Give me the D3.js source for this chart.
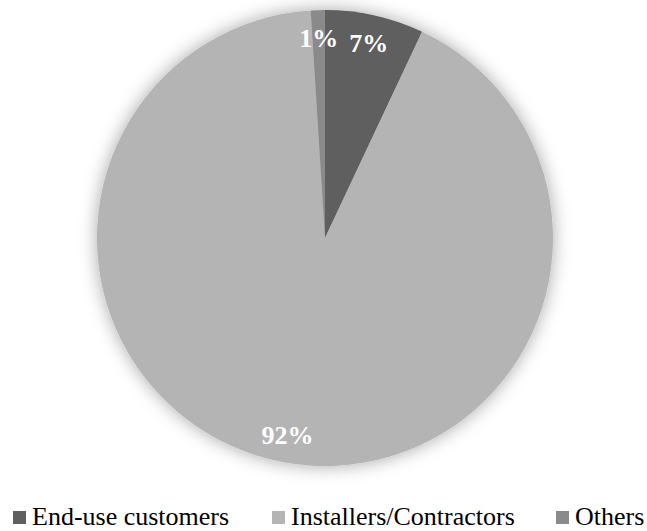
<!DOCTYPE html>
<html>
<head>
<meta charset="utf-8">
<script src="https://cdn.jsdelivr.net/npm/d3@7"></script>
<style>
  html, body { margin: 0; padding: 0; background: #fff; }
  svg { display: block; }
</style>
</head>
<body>
<svg id="chart" width="647" height="531"></svg>
<script>
// Share of sales by customer type
const categories = ["End-use customers", "Installers/Contractors", "Others"];
const shares = [7, 92, 1];
const sliceColors = ["#5f5f5f", "#b4b4b4", "#8a8a8a"];

const width = 647, height = 531;
const cx = 325, cy = 238, radius = 228;
const serif = '"Liberation Serif", "Times New Roman", Times, serif';

const svg = d3.select("#chart");

const defs = svg.append("defs");
const glow = defs.append("filter").attr("id", "glow")
  .attr("x", "-20%").attr("y", "-20%").attr("width", "140%").attr("height", "140%");
glow.append("feDropShadow")
  .attr("dx", 0).attr("dy", 0)
  .attr("stdDeviation", 9)
  .attr("flood-color", "#000").attr("flood-opacity", 0.35);

const data = categories.map((c, i) => ({ name: c, value: shares[i], color: sliceColors[i] }));

const pie = d3.pie().value(d => d.value).sort(null);
const arc = d3.arc().innerRadius(0).outerRadius(radius);
const labelArc = d3.arc().innerRadius(200).outerRadius(200);

const g = svg.append("g").attr("transform", `translate(${cx},${cy})`);
const arcs = pie(data);

g.append("g").attr("filter", "url(#glow)")
  .selectAll("path").data(arcs).join("path")
  .attr("d", arc)
  .attr("fill", d => d.data.color);

g.selectAll("text.lbl").data(arcs).join("text")
  .attr("class", "lbl")
  .attr("x", d => labelArc.centroid(d)[0])
  .attr("y", d => labelArc.centroid(d)[1])
  .attr("dy", "0.35em")
  .attr("text-anchor", "middle")
  .style("font-family", serif)
  .style("font-weight", "bold")
  .style("font-size", "26px")
  .attr("fill", "#fff")
  .text(d => d.data.value + "%");

// legend
const legendX = [13, 272, 556];
const legend = svg.append("g").attr("transform", "translate(0,525)");
const items = legend.selectAll("g").data(data).join("g")
  .attr("transform", (d, i) => `translate(${legendX[i]},0)`);
items.append("rect")
  .attr("x", 0).attr("y", -14).attr("width", 13).attr("height", 13)
  .attr("fill", d => d.color);
items.append("text")
  .attr("x", 19).attr("y", 0)
  .style("font-family", serif)
  .style("font-size", "26px")
  .attr("fill", "#000")
  .text(d => d.name);
</script>
</body>
</html>
